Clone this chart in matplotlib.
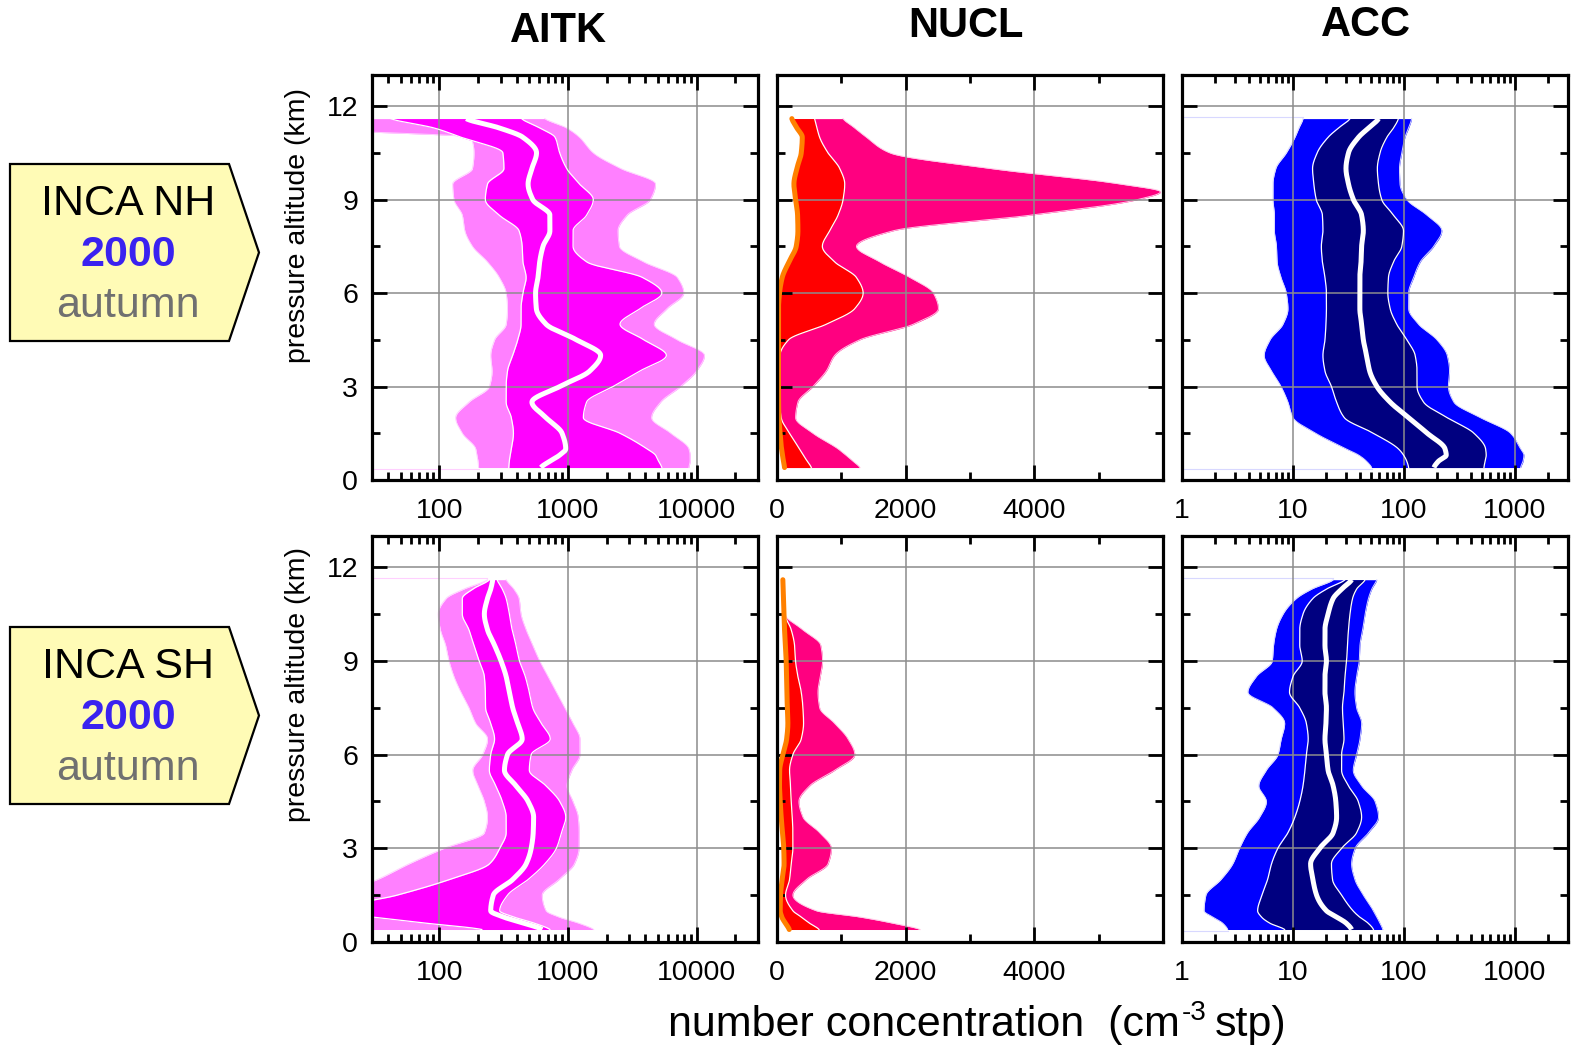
import numpy as np
import matplotlib
matplotlib.use("Agg")
import matplotlib.pyplot as plt
from matplotlib.patches import Polygon
from matplotlib.ticker import FixedLocator, FixedFormatter, LogLocator, NullFormatter

plt.rcParams['font.family'] = ['Liberation Sans', 'DejaVu Sans']

# ---------------- data ----------------
ALT = [0.4, 0.6, 0.8, 1.0, 1.5, 2.0, 2.5, 3.0, 3.5, 4.0, 4.5, 5.0, 5.5, 6.0, 6.5,
       7.0, 7.5, 8.0, 8.5, 9.0, 9.5, 10.0, 10.5, 11.0, 11.3, 11.6]
ALT_SPIKE = [0.4, 0.6, 0.8, 1.0, 1.5, 2.0, 2.5, 3.0, 3.5, 4.0, 4.5, 5.0, 5.5, 6.0, 6.5,
             7.0, 7.5, 8.0, 8.5, 9.0, 9.25, 9.5, 10.0, 10.5, 11.0, 11.3, 11.6]

# AITK, INCA NH
aitk_nh_p10 = [202, 200, 196, 192, 151, 134, 170, 245, 257, 251, 269, 331, 339, 331, 293,
               237, 181, 158, 151, 130, 127, 181, 186, 176, 8, 8]
aitk_nh_p25 = [347, 350, 356, 363, 377, 363, 331, 331, 339, 372, 407, 432, 432, 447, 473,
               447, 441, 417, 293, 228, 237, 318, 312, 148, 91, 42]
aitk_nh_p50 = [617, 721, 863, 961, 900, 676, 525, 863, 1479, 1795, 1164, 676, 568, 560, 585,
               603, 640, 724, 724, 533, 490, 525, 570, 447, 293, 162]
aitk_nh_p75 = [5370, 5070, 4790, 4110, 2540, 1318, 1396, 2240, 3630, 5820, 3890, 2540, 3630, 5370, 3800,
               1400, 1096, 1096, 1396, 1574, 1230, 977, 863, 794, 603, 437]
aitk_nh_p90 = [8710, 8900, 8900, 8710, 6310, 4470, 5250, 7500, 10000, 11500, 7080, 4680, 5890, 7940, 7080,
               3890, 2510, 2450, 2880, 4370, 4790, 2570, 1574, 1230, 977, 661]

# AITK, INCA SH
aitk_sh_p10 = [16, 16, 16, 16, 16, 33, 58, 109, 224, 237, 224, 200, 182, 217, 237,
               192, 170, 147, 130, 119, 112, 102, 98, 113, 155, 237]
aitk_sh_p25 = [214, 80, 30, 15, 47, 120, 245, 295, 331, 331, 309, 275, 245, 251, 269,
               251, 229, 228, 224, 204, 186, 170, 151, 151, 182, 245]
aitk_sh_p50 = [631, 457, 316, 251, 263, 372, 473, 518, 537, 541, 490, 395, 321, 339, 441,
               407, 372, 351, 331, 302, 269, 237, 224, 237, 251, 260]
aitk_sh_p75 = [724, 550, 380, 295, 339, 490, 661, 813, 891, 962, 863, 676, 501, 518, 729,
               621, 533, 501, 466, 420, 395, 368, 351, 331, 309, 282]
aitk_sh_p90 = [1585, 1219, 851, 676, 631, 851, 1122, 1219, 1222, 1202, 1096, 984, 1072, 1239, 1239,
               1096, 944, 813, 700, 603, 533, 473, 432, 417, 380, 331]

# NUCL, INCA NH (orange line, upper quartile, upper decile)
nucl_nh_lo = [117, 100, 85, 70, 49, 29, 25, 23, 23, 23, 23, 23, 23, 39, 81,
              185, 299, 325, 320, 289, 263, 309, 377, 393, 309, 231]
nucl_nh_p75 = [533, 470, 410, 350, 195, 65, 39, 29, 35, 45, 180, 767, 1209, 1339, 1235,
               897, 705, 819, 949, 1027, 1053, 975, 793, 663, 621, 585]
nucl_nh_p90 = [1287, 1183, 1070, 949, 559, 289, 325, 559, 767, 897, 1287, 2119, 2509, 2431, 2067,
               1599, 1235, 1807, 3939, 5603, 5960, 5343, 3315, 1755, 1391, 1209, 1027]

# NUCL, INCA SH
nucl_sh_lo = [190, 130, 75, 50, 55, 80, 110, 105, 85, 65, 50, 39, 42, 90, 150,
              169, 160, 155, 150, 143, 130, 117, 110, 100, 95, 91]
nucl_sh_p75 = [653, 507, 377, 247, 133, 195, 221, 247, 247, 237, 221, 211, 195, 247, 377,
               413, 403, 377, 325, 288, 273, 221, 120, 100, 95, 91]
nucl_sh_p90 = [2223, 1807, 1287, 611, 247, 455, 793, 845, 663, 403, 341, 507, 897, 1209, 1105,
               897, 663, 637, 673, 708, 680, 400, 120, 100, 95, 91]

# ACC, INCA NH
acc_nh_p10 = [51, 46, 39, 30, 16, 10, 9.0, 7.8, 6.4, 5.5, 6.2, 8.1, 9.0, 8.7, 7.8,
              7.2, 7.1, 6.8, 6.8, 6.6, 6.6, 7.0, 8.7, 10.4, 11.3, 12.3]
acc_nh_p25 = [110, 106, 99, 89, 53, 29, 24.7, 22.2, 19.4, 18.6, 19.4, 19.8, 20, 20, 19.4,
              18.4, 18.0, 18.6, 18.4, 16.2, 15.4, 15.0, 16.5, 20.7, 25.7, 32.6]
acc_nh_p50 = [186, 204, 240, 234, 162, 110, 75, 57, 49, 46, 43, 41.5, 40, 40, 40,
              41, 41.5, 43, 41.5, 35, 31.6, 30, 31.6, 38.9, 47.9, 58.9]
acc_nh_p75 = [525, 537, 550, 543, 427, 245, 150, 131, 131, 126, 106, 86, 75, 71.5, 72.4,
              80.4, 95.5, 98.9, 80.4, 63, 58.9, 57.5, 60.8, 70, 80.4, 89]
acc_nh_p90 = [1122, 1180, 1202, 1122, 912, 490, 281, 251, 257, 245, 198, 135, 110, 110, 122,
              140, 185, 219, 161, 106, 92, 91, 95.5, 102, 110, 117]

# ACC, INCA SH
acc_sh_p10 = [2.58, 2.33, 1.89, 1.58, 1.64, 2.24, 2.86, 3.29, 3.89, 5.0, 5.75, 4.92, 5.74, 7.31, 7.83,
              8.41, 6.61, 3.92, 4.66, 6.50, 6.68, 7.08, 8.13, 10.7, 14.7, 23]
acc_sh_p25 = [8.4, 6.2, 5.2, 4.8, 5.25, 5.9, 6.4, 7.3, 9.0, 10.4, 11.5, 12.3, 12.8, 13.2, 13.7,
              13.2, 11.5, 9.3, 10.0, 12.1, 11.5, 11.5, 12.3, 15.1, 20, 29.4]
acc_sh_p50 = [33.7, 30.2, 24.7, 20, 16.3, 15.1, 14.4, 17.4, 23, 24.7, 24.3, 23, 20.7, 20, 19.4,
              19.8, 20, 19.4, 19.4, 20, 19.4, 19.4, 20.7, 23, 27.4, 33.7]
acc_sh_p75 = [53, 47.6, 39.8, 34.7, 27.4, 22.7, 22.2, 27.4, 37.4, 41.5, 38.7, 31.6, 27.4, 27.4, 28.8,
              28.3, 27.9, 28.8, 29.4, 30.4, 30.9, 31.6, 32.6, 34.4, 37.4, 44.6]
acc_sh_p90 = [64.3, 60.8, 56.8, 53, 43, 36.1, 33.7, 36.3, 47.9, 58.9, 54.8, 41.5, 34.9, 37.4, 40.1,
              41.5, 37.4, 36.1, 37.4, 39.5, 40.1, 42.4, 44.6, 47.8, 51.2, 56.8]

titles = ['AITK', 'NUCL', 'ACC']
row_names = ['INCA NH', 'INCA SH']
row_year = '2000'
row_season = 'autumn'
alt_ticks = [0, 3, 6, 9, 12]
alt_minor = [1.5, 4.5, 7.5, 10.5]
aitk_ticks = [100, 1000, 10000]
aitk_labels = ['100', '1000', '10000']
nucl_ticks = [0, 2000, 4000]
nucl_minor = [1000, 3000, 5000]
nucl_labels = ['0', '2000', '4000']
acc_ticks = [1, 10, 100, 1000]
acc_labels = ['1', '10', '100', '1000']


# ---------------- helpers ----------------
def pchip(x, y, xn):
    x = np.asarray(x, float)
    y = np.asarray(y, float)
    h = np.diff(x)
    d = np.diff(y) / h
    n = len(x)
    m = np.zeros(n)
    for k in range(1, n - 1):
        if d[k - 1] * d[k] > 0:
            w1 = 2 * h[k] + h[k - 1]
            w2 = h[k] + 2 * h[k - 1]
            m[k] = (w1 + w2) / (w1 / d[k - 1] + w2 / d[k])
    m[0] = d[0] * 0.5
    m[-1] = d[-1] * 0.5
    idx = np.clip(np.searchsorted(x, xn) - 1, 0, n - 2)
    t = (xn - x[idx]) / h[idx]
    h00 = 2 * t**3 - 3 * t**2 + 1
    h10 = t**3 - 2 * t**2 + t
    h01 = -2 * t**3 + 3 * t**2
    h11 = t**3 - t**2
    return h00 * y[idx] + h10 * h[idx] * m[idx] + h01 * y[idx + 1] + h11 * h[idx] * m[idx + 1]


AN = np.linspace(ALT[0], ALT[-1], 700)


def smooth(alt, vals, log):
    v = np.asarray(vals, float)
    if log:
        return 10 ** pchip(alt, np.log10(v), AN)
    return pchip(alt, v, AN)


def band_panel(ax, p10, p25, p50, p75, p90, c_out, c_in, c_edge, xmin):
    lo10 = smooth(ALT, p10, True)
    hi90 = smooth(ALT, p90, True)
    lo25 = smooth(ALT, p25, True)
    hi75 = smooth(ALT, p75, True)
    med = smooth(ALT, p50, True)
    ax.fill_betweenx(AN, lo10, hi90, color=c_out, lw=0, zorder=1)
    ax.plot(lo10, AN, color=c_edge, lw=0.7, zorder=1.1)
    ax.plot(hi90, AN, color=c_edge, lw=0.7, zorder=1.1)
    ax.fill_betweenx(AN, lo25, hi75, color=c_in, lw=0, zorder=1.2)
    ax.plot(lo25, AN, color='white', lw=0.9, zorder=3)
    ax.plot(hi75, AN, color='white', lw=0.9, zorder=3)
    ax.plot(med, AN, color='white', lw=3.6, zorder=3.2, solid_capstyle='butt')
    # faint edge lines closing the outer band toward the axis
    ax.plot([xmin, p10[-1]], [ALT[-1] + 0.06] * 2, color=c_edge, lw=0.8, zorder=1.1)
    ax.plot([xmin, p10[0]], [ALT[0] - 0.05] * 2, color=c_edge, lw=0.8, zorder=1.1)


def nucl_panel(ax, lo, p75, p90, alt90):
    l = smooth(ALT, lo, False)
    h75 = smooth(ALT, p75, False)
    h90 = smooth(alt90, p90, False)
    ax.fill_betweenx(AN, l, h90, color='#FF0080', lw=0, zorder=1)
    ax.plot(h90, AN, color='#FFC8E6', lw=0.7, zorder=1.1)
    ax.fill_betweenx(AN, l, h75, color='#FF0000', lw=0, zorder=1.2)
    ax.plot(h75, AN, color='white', lw=0.9, zorder=3)
    ax.plot(l, AN, color='#FF8000', lw=3.6, zorder=3.2, solid_capstyle='round')


def style_axes(ax, kind, show_y):
    ax.set_ylim(0, 13)
    ax.yaxis.set_major_locator(FixedLocator(alt_ticks))
    ax.yaxis.set_minor_locator(FixedLocator(alt_minor))
    if kind == 'aitk':
        ax.set_xscale('log')
        ax.set_xlim(30, 30000)
        ax.xaxis.set_major_locator(FixedLocator(aitk_ticks))
        ax.xaxis.set_major_formatter(FixedFormatter(aitk_labels))
        ax.xaxis.set_minor_locator(LogLocator(base=10, subs=np.arange(2, 10), numticks=30))
        ax.xaxis.set_minor_formatter(NullFormatter())
    elif kind == 'acc':
        ax.set_xscale('log')
        ax.set_xlim(1, 3000)
        ax.xaxis.set_major_locator(FixedLocator(acc_ticks))
        ax.xaxis.set_major_formatter(FixedFormatter(acc_labels))
        ax.xaxis.set_minor_locator(LogLocator(base=10, subs=np.arange(2, 10), numticks=30))
        ax.xaxis.set_minor_formatter(NullFormatter())
    else:
        ax.set_xlim(0, 6000)
        ax.xaxis.set_major_locator(FixedLocator(nucl_ticks))
        ax.xaxis.set_major_formatter(FixedFormatter(nucl_labels))
        ax.xaxis.set_minor_locator(FixedLocator(nucl_minor))
    ax.set_axisbelow(False)
    ax.grid(True, which='major', color='#8c8c8c', lw=1.1, zorder=2.5)
    ax.tick_params(which='both', direction='in', top=True, right=True,
                   width=2.0, labelsize=20.5, color='black')
    ax.tick_params(which='major', length=11)
    ax.tick_params(which='minor', length=6)
    ax.tick_params(axis='x', pad=13)
    ax.tick_params(axis='y', pad=10, labelleft=show_y)
    for s in ax.spines.values():
        s.set_linewidth(2.3)
        s.set_zorder(5)


# ---------------- figure ----------------
W, H = 1573.0, 1049.0
fig = plt.figure(figsize=(W / 100, H / 100), dpi=100)


def fx(p):
    return p / W


def fy(p):
    return 1 - p / H


col_left = [372, 777, 1182]
row_top = [75, 536]
row_h = [405, 406]
ax_w = 386

axes = {}
for r in range(2):
    for c in range(3):
        ax = fig.add_axes([fx(col_left[c]), fy(row_top[r] + row_h[r]), ax_w / W, row_h[r] / H])
        axes[(r, c)] = ax

band_panel(axes[(0, 0)], aitk_nh_p10, aitk_nh_p25, aitk_nh_p50, aitk_nh_p75, aitk_nh_p90,
           '#FF80FF', '#FF00FF', '#FFD0FF', 30)
band_panel(axes[(1, 0)], aitk_sh_p10, aitk_sh_p25, aitk_sh_p50, aitk_sh_p75, aitk_sh_p90,
           '#FF80FF', '#FF00FF', '#FFD0FF', 30)
nucl_panel(axes[(0, 1)], nucl_nh_lo, nucl_nh_p75, nucl_nh_p90, ALT_SPIKE)
nucl_panel(axes[(1, 1)], nucl_sh_lo, nucl_sh_p75, nucl_sh_p90, ALT)
band_panel(axes[(0, 2)], acc_nh_p10, acc_nh_p25, acc_nh_p50, acc_nh_p75, acc_nh_p90,
           '#0000FF', '#000080', '#D8D8FF', 1)
band_panel(axes[(1, 2)], acc_sh_p10, acc_sh_p25, acc_sh_p50, acc_sh_p75, acc_sh_p90,
           '#0000FF', '#000080', '#D8D8FF', 1)

kinds = ['aitk', 'nucl', 'acc']
for (r, c), ax in axes.items():
    style_axes(ax, kinds[c], c == 0)

# column titles
title_pos = [(558, 31), (966, 26), (1366, 25)]
for t, (px, py) in zip(titles, title_pos):
    fig.text(fx(px), fy(py), t, ha='center', va='center', fontsize=30, fontweight='bold')

# y labels
for py in [225, 685]:
    fig.text(fx(298), fy(py), 'pressure altitude (km)', rotation=90,
             ha='center', va='center', fontsize=20.5)

# x label built from pieces so the superscript keeps a plain hyphen
renderer = fig.canvas.get_renderer()
t1 = fig.text(fx(668), fy(1036), 'number concentration  (cm', ha='left', va='baseline',
              fontsize=31)
x1 = t1.get_window_extent(renderer).x1
t2 = fig.text((x1 + 2) / W, fy(1020), '-3', ha='left', va='baseline', fontsize=20)
x2 = t2.get_window_extent(renderer).x1
fig.text((x2 + 8) / W, fy(1036), 'stp)', ha='left', va='baseline', fontsize=31)

# left labels (arrow boxes)
for name, top in zip(row_names, [164, 627]):
    bot = top + 177
    mid = (top + bot) / 2
    verts = [(fx(10), fy(top)), (fx(229), fy(top)), (fx(259), fy(mid)),
             (fx(229), fy(bot)), (fx(10), fy(bot))]
    poly = Polygon(verts, closed=True, transform=fig.transFigure,
                   facecolor='#FFFBB6', edgecolor='black', lw=1.6)
    fig.add_artist(poly)
    fig.text(fx(128), fy(top + 40), name, ha='center', va='center', fontsize=31, color='black')
    fig.text(fx(128), fy(top + 91), row_year, ha='center', va='center', fontsize=31,
             fontweight='bold', color='#3A22F0')
    fig.text(fx(128), fy(top + 142), row_season, ha='center', va='center', fontsize=31,
             color='#707070')

fig.savefig('out.png', dpi=100)
